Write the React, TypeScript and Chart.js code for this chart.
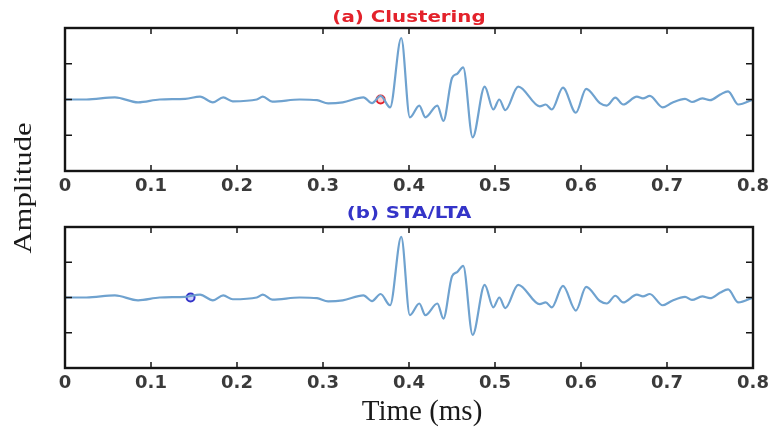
import React, { useEffect, useRef } from "react";
import { Chart, registerables } from "chart.js";

Chart.register(...registerables);

// ---- data ----
const TIME_MS = [
  0.0, 0.025, 0.058, 0.085, 0.11, 0.14, 0.157, 0.172, 0.184, 0.195, 0.223, 0.23, 0.241,
  0.273, 0.293, 0.306, 0.323, 0.347, 0.357, 0.367, 0.378, 0.391, 0.401, 0.412, 0.419,
  0.433, 0.44, 0.45, 0.456, 0.463, 0.474, 0.488, 0.498, 0.505, 0.512, 0.527, 0.552,
  0.559, 0.566, 0.579, 0.594, 0.606, 0.622, 0.63, 0.64, 0.649, 0.665, 0.672, 0.68,
  0.695, 0.706, 0.721, 0.729, 0.741, 0.75, 0.762, 0.771, 0.783, 0.8,
];
const AMPLITUDE = [
  0.0, 0.0, 0.06, -0.08, 0.0, 0.02, 0.08, -0.08, 0.06, -0.05, 0.0, 0.08, -0.06,
  0.0, -0.02, -0.11, -0.08, 0.06, -0.1, 0.1, -0.22, 1.72, -0.5, -0.17, -0.5,
  -0.17, -0.6, 0.6, 0.72, 0.9, -1.06, 0.36, -0.28, 0.0, -0.3, 0.36, -0.19,
  -0.14, -0.28, 0.33, -0.37, 0.3, -0.1, -0.17, 0.05, -0.14, 0.08, 0.03, 0.1,
  -0.22, -0.09, 0.02, -0.07, 0.03, -0.02, 0.14, 0.23, -0.14, 0.0,
];
const X_TICKS = [0, 0.1, 0.2, 0.3, 0.4, 0.5, 0.6, 0.7, 0.8];
const Y_TICKS = [-1, 0, 1];
const Y_MIN = -2;
const Y_MAX = 2;
const PICK_CLUSTERING = { x: 0.367, y: 0 };
const PICK_STALTA = { x: 0.146, y: 0 };

const TITLE_A = "(a) Clustering";
const TITLE_B = "(b) STA/LTA";
const X_LABEL = "Time (ms)";
const Y_LABEL = "Amplitude";

const W = 774;
const H = 436;

type PanelCfg = {
  top: number;
  bottom: number;
  title: string;
  titleColor: string;
  titleY: number;
  pick: { x: number; y: number };
  pickColor: string;
  pickFill: string;
  axisTitles: boolean;
};

function drawStretched(
  ctx: CanvasRenderingContext2D,
  text: string,
  x: number,
  y: number,
  sx: number,
  rotate = 0
) {
  ctx.save();
  ctx.translate(x, y);
  if (rotate) ctx.rotate(rotate);
  ctx.scale(sx, 1);
  ctx.fillText(text, 0, 0);
  ctx.restore();
}

function makeChart(canvas: HTMLCanvasElement, p: PanelCfg) {
  const framePlugin = {
    id: "frame",
    afterDatasetsDraw(chart: any) {
      const { ctx, chartArea: a, scales } = chart;
      ctx.save();
      ctx.strokeStyle = "#151515";
      ctx.lineWidth = 1.5;
      for (const t of X_TICKS) {
        const px = scales.x.getPixelForValue(t);
        ctx.beginPath();
        ctx.moveTo(px, a.bottom);
        ctx.lineTo(px, a.bottom - 6);
        ctx.moveTo(px, a.top);
        ctx.lineTo(px, a.top + 6);
        ctx.stroke();
      }
      for (const t of Y_TICKS) {
        const py = scales.y.getPixelForValue(t);
        ctx.beginPath();
        ctx.moveTo(a.left, py);
        ctx.lineTo(a.left + 7, py);
        ctx.moveTo(a.right, py);
        ctx.lineTo(a.right - 7, py);
        ctx.stroke();
      }
      ctx.lineWidth = 2.4;
      ctx.strokeRect(a.left, a.top, a.right - a.left, a.bottom - a.top);
      ctx.restore();
    },
    afterDraw(chart: any) {
      const ctx = chart.ctx as CanvasRenderingContext2D;
      ctx.save();
      ctx.fillStyle = p.titleColor;
      ctx.font = 'bold 16.5px "DejaVu Sans"';
      ctx.textAlign = "center";
      ctx.textBaseline = "middle";
      drawStretched(ctx, p.title, 409, p.titleY, 1.2);
      if (p.axisTitles) {
        ctx.fillStyle = "#1a1a1a";
        ctx.font = '29px "Liberation Serif"';
        ctx.textAlign = "center";
        ctx.textBaseline = "alphabetic";
        drawStretched(ctx, X_LABEL, 422, 420, 1.0);
        ctx.font = '26px "Liberation Serif"';
        drawStretched(ctx, Y_LABEL, 31, 188, 1.18, -Math.PI / 2);
      }
      ctx.restore();
    },
  };

  const points = TIME_MS.map((t, i) => ({ x: t, y: AMPLITUDE[i] }));

  return new Chart(canvas, {
    type: "line",
    data: {
      datasets: [
        {
          data: points,
          borderColor: "#6fa2cf",
          borderWidth: 2.2,
          pointRadius: 0,
          cubicInterpolationMode: "monotone",
          fill: false,
        },
        {
          data: [p.pick],
          showLine: false,
          pointRadius: 4,
          pointBorderWidth: 2,
          pointBorderColor: p.pickColor,
          pointBackgroundColor: p.pickFill,
        },
      ],
    } as any,
    options: {
      responsive: false,
      animation: false,
      events: [],
      layout: { padding: { top: p.top, right: W - 753, left: 0, bottom: 0 } },
      plugins: { legend: { display: false }, tooltip: { enabled: false }, title: { display: false } },
      scales: {
        x: {
          type: "linear",
          min: 0,
          max: 0.8,
          afterBuildTicks: (scale: any) => {
            scale.ticks = X_TICKS.map((v) => ({ value: v }));
          },
          afterFit: (scale: any) => {
            scale.height = H - p.bottom;
          },
          grid: { display: false, drawTicks: false },
          border: { display: false },
          ticks: {
            autoSkip: false,
            maxRotation: 0,
            padding: 5,
            color: "#3a3a3a",
            font: { family: "DejaVu Sans", weight: "bold", size: 18 },
            callback: (v: any) => (Number(v) === 0 ? "0" : Number(v).toFixed(1)),
          },
        },
        y: {
          type: "linear",
          min: Y_MIN,
          max: Y_MAX,
          afterBuildTicks: (scale: any) => {
            scale.ticks = Y_TICKS.map((v) => ({ value: v }));
          },
          afterFit: (scale: any) => {
            scale.width = 65;
          },
          grid: { display: false, drawTicks: false },
          border: { display: false },
          ticks: { display: false },
        },
      },
    } as any,
    plugins: [framePlugin],
  });
}

export default function App() {
  const refA = useRef<HTMLCanvasElement>(null);
  const refB = useRef<HTMLCanvasElement>(null);

  useEffect(() => {
    const a = makeChart(refA.current!, {
      top: 28,
      bottom: 171,
      title: TITLE_A,
      titleColor: "#e3222b",
      titleY: 18,
      pick: PICK_CLUSTERING,
      pickColor: "#e3222b",
      pickFill: "rgba(255,190,190,0.7)",
      axisTitles: true,
    });
    const b = makeChart(refB.current!, {
      top: 227,
      bottom: 368,
      title: TITLE_B,
      titleColor: "#3434c8",
      titleY: 214,
      pick: PICK_STALTA,
      pickColor: "#3434c8",
      pickFill: "rgba(190,190,255,0.7)",
      axisTitles: false,
    });
    return () => {
      a.destroy();
      b.destroy();
    };
  }, []);

  const cStyle: React.CSSProperties = {
    position: "absolute",
    left: 0,
    top: 0,
    width: W,
    height: H,
  };

  return (
    <div style={{ position: "fixed", left: 0, top: 0, width: W, height: H, background: "#fff" }}>
      <canvas ref={refA} width={W} height={H} style={cStyle} />
      <canvas ref={refB} width={W} height={H} style={cStyle} />
    </div>
  );
}
